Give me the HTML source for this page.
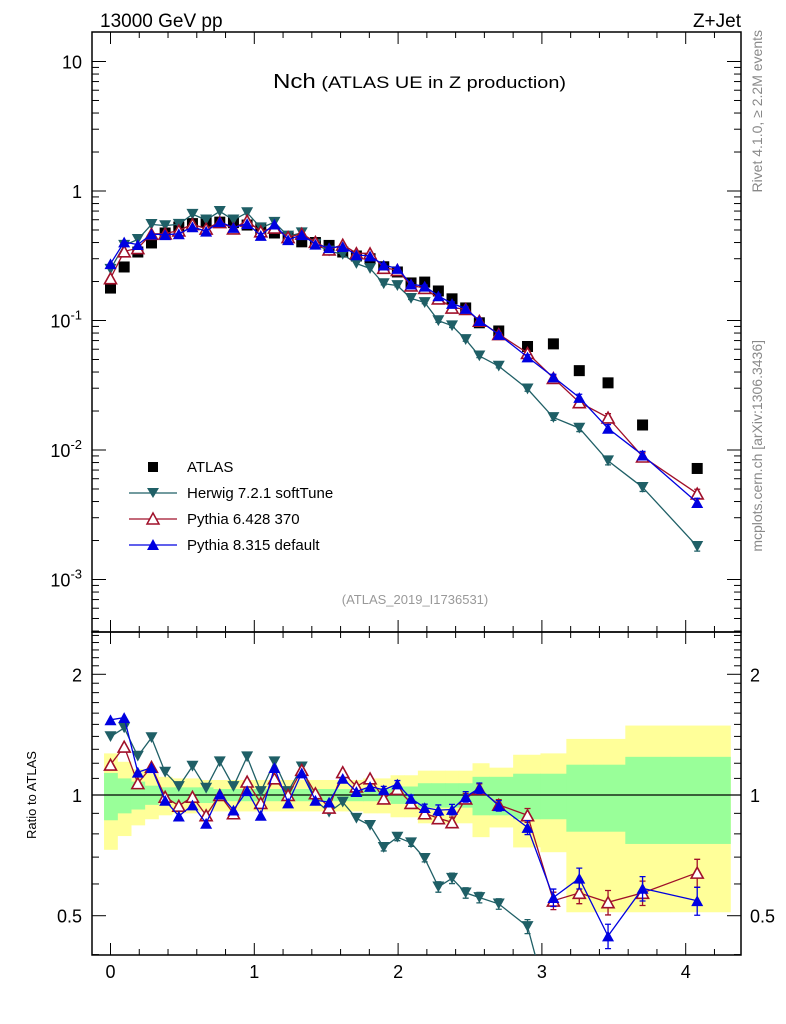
<!DOCTYPE html>
<html><head><meta charset="utf-8"><style>
html,body{margin:0;padding:0;background:#fff;}
svg{display:block;font-family:"Liberation Sans",Arial,sans-serif;}
</style></head><body>
<svg id="chart" width="786" height="1024" viewBox="0 0 786 1024" xmlns="http://www.w3.org/2000/svg">
<defs>
<clipPath id="clipMain"><rect x="92" y="32" width="649" height="600"/></clipPath>
<clipPath id="clipRatio"><rect x="92" y="632" width="649" height="323"/></clipPath>
</defs>
<g id="bands" clip-path="url(#clipRatio)"></g>
<g id="grid"></g>
<text x="100" y="27" font-size="19">13000 GeV pp</text>
<text x="741" y="27" font-size="19" text-anchor="end">Z+Jet</text>
<text x="273" y="88" textLength="293" lengthAdjust="spacingAndGlyphs"><tspan font-size="20">Nch</tspan><tspan font-size="16.5"> (ATLAS UE in Z production)</tspan></text>
<text transform="translate(762,30) rotate(-90)" font-size="14" fill="#888" text-anchor="end">Rivet 4.1.0, ≥ 2.2M events</text>
<text transform="translate(762,340) rotate(-90)" font-size="14" fill="#888" text-anchor="end"><tspan>mcplots.cern.ch [arXiv:1306.3436]</tspan></text>
<text x="415" y="604" font-size="13" fill="#999" text-anchor="middle">(ATLAS_2019_I1736531)</text>
<text transform="translate(36,795) rotate(-90)" font-size="13" text-anchor="middle">Ratio to ATLAS</text>
<g id="legend" font-size="15">
<rect x="148" y="462" width="10" height="10" fill="#000"/>
<text x="187" y="472">ATLAS</text>
<line x1="129" y1="493" x2="177" y2="493" stroke="#1f5f66" stroke-width="1.3"/>
<polygon points="147,488 159,488 153,498" fill="#1f5f66"/>
<text x="187" y="498">Herwig 7.2.1 softTune</text>
<line x1="129" y1="519" x2="177" y2="519" stroke="#a0102a" stroke-width="1.3"/>
<polygon points="153,513 159,524 147,524" fill="#fff" stroke="#a0102a" stroke-width="1.5"/>
<text x="187" y="524">Pythia 6.428 370</text>
<line x1="129" y1="545" x2="177" y2="545" stroke="#0000e0" stroke-width="1.3"/>
<polygon points="153,539 159,550 147,550" fill="#0000e0"/>
<text x="187" y="550">Pythia 8.315 default</text>
</g>
<g id="series"></g>
</svg>
<script>
const xVals = [0,0.095,0.19,0.285,0.38,0.475,0.57,0.665,0.76,0.855,0.95,1.045,1.14,1.235,1.33,1.425,1.52,1.615,1.71,1.805,1.9,1.995,2.09,2.185,2.28,2.375,2.47,2.565,2.70,2.90,3.08,3.26,3.46,3.70,4.08];
const atlasVals = [0.178,0.259,0.338,0.397,0.474,0.527,0.56,0.575,0.575,0.57,0.546,0.51,0.474,0.44,0.405,0.40,0.38,0.338,0.315,0.30,0.26,0.237,0.195,0.198,0.169,0.147,0.125,0.096,0.083,0.063,0.066,0.041,0.033,0.0156,0.0072];
const herwigRatio = [1.398,1.47,1.25,1.39,1.14,1.05,1.18,1.04,1.21,1.05,1.245,1.02,1.21,1.02,1.175,0.97,0.906,0.96,0.875,0.84,0.74,0.785,0.76,0.695,0.59,0.62,0.57,0.555,0.535,0.47,0.27,0.36,0.25,0.33,0.25];
const pythia6Ratio = [1.19,1.32,1.07,1.175,0.99,0.94,0.99,0.89,1.0,0.90,1.08,0.955,1.10,1.0,1.155,1.01,0.93,1.14,1.05,1.10,0.98,1.035,0.955,0.90,0.875,0.855,0.98,1.035,0.945,0.89,0.545,0.57,0.54,0.57,0.64];
const pythia8Ratio = [1.54,1.56,1.14,1.17,0.97,0.886,0.944,0.85,1.006,0.917,1.025,0.89,1.17,0.955,1.135,0.97,0.96,1.10,1.02,1.05,1.03,1.065,0.98,0.93,0.917,0.92,0.99,1.04,0.94,0.83,0.555,0.62,0.445,0.585,0.545];
const mcErr = [0,0,0,0,0,0,0,0,0,0,0,0,0,0,0,0,0,0,0,0,0.02,0.02,0.02,0.02,0.03,0.03,0.03,0.03,0.03,0.04,0.05,0.06,0.07,0.07,0.08];
const errTotalHi = [0.27,0.21,0.16,0.13,0.11,0.10,0.10,0.09,0.09,0.09,0.09,0.09,0.09,0.09,0.09,0.09,0.09,0.09,0.09,0.10,0.10,0.12,0.12,0.15,0.15,0.15,0.15,0.20,0.17,0.26,0.27,0.38,0.38,0.49,0.49];
const errTotalLo = [0.27,0.21,0.16,0.13,0.11,0.10,0.10,0.09,0.09,0.09,0.09,0.09,0.09,0.09,0.09,0.09,0.09,0.09,0.09,0.10,0.10,0.12,0.12,0.15,0.15,0.15,0.15,0.215,0.17,0.26,0.28,0.49,0.49,0.49,0.49];
const errStat = [0.135,0.10,0.08,0.055,0.045,0.045,0.045,0.045,0.035,0.035,0.035,0.035,0.035,0.035,0.035,0.035,0.035,0.035,0.035,0.035,0.035,0.05,0.05,0.07,0.07,0.07,0.07,0.11,0.11,0.13,0.13,0.19,0.19,0.245,0.245];
const xTicks = [0,1,2,3,4];
const mainTicks = [10,1,0.1,0.01,0.001];
const mainTickLabels = ["10","1","10^-1","10^-2","10^-3"];
const ratioTicks = [2,1,0.5];
const ratioTickLabels = ["2","1","0.5"];

const NS="http://www.w3.org/2000/svg";
const L=92,R=741,T=32,M=632,B=955;
function xp(d){return 110.5+143.8*d;}
function ym(v){return 191-129.5*Math.log10(v);}
function yr(r){return 795-401*Math.log10(r);}
function mk(tag,attrs,parent){const e=document.createElementNS(NS,tag);for(const k in attrs)e.setAttribute(k,attrs[k]);parent.appendChild(e);return e;}
const svg=document.getElementById('chart');
const bands=document.getElementById('bands');
const grid=document.getElementById('grid');
const series=document.getElementById('series');

const edges=[];
edges.push(xVals[0]-0.045);
for(let i=0;i<xVals.length-1;i++)edges.push((xVals[i]+xVals[i+1])/2);
edges.push(4.31);
for(let i=0;i<xVals.length;i++){
  const x0=xp(edges[i]),x1=xp(edges[i+1]);
  let r=mk('rect',{x:x0,y:yr(1+errTotalHi[i]),width:x1-x0+0.5,height:yr(1-errTotalLo[i])-yr(1+errTotalHi[i]),fill:'#ffff99'},bands);
  
  
}
for(let i=0;i<xVals.length;i++){
  const x0=xp(edges[i]),x1=xp(edges[i+1]);
  let r=mk('rect',{x:x0,y:yr(1+errStat[i]),width:x1-x0+0.5,height:yr(1-errStat[i])-yr(1+errStat[i]),fill:'#99ff99'},bands);
  
  
}
let f1=mk('rect',{x:L,y:T,width:R-L,height:M-T,fill:'none',stroke:'#000','stroke-width':1.5},grid);


let f2=mk('rect',{x:L,y:M,width:R-L,height:B-M,fill:'none',stroke:'#000','stroke-width':1.5},grid);


let one=mk('line',{x1:L,x2:R,y1:yr(1),y2:yr(1),stroke:'#000','stroke-width':1.2},grid);


for(let d=0;d<=4.4;d+=0.2){
  const x=xp(d);if(x<L||x>R)continue;
  const major=Math.abs(d-Math.round(d))<0.01;
  const len=major?12:6;
  [[T,1],[M,-1],[M,1],[B,-1]].forEach(([y,s])=>{mk('line',{x1:x,x2:x,y1:y,y2:y+s*len,stroke:'#000','stroke-width':1},grid);});
}
xTicks.forEach(d=>{
  let t=mk('text',{x:xp(d),y:978,'font-size':18,'text-anchor':'middle'},svg);
  t.textContent=String(d);
  
  
});
for(let e=-4;e<=1;e++){
  for(let k=1;k<=9;k++){
    const v=k*Math.pow(10,e);const y=ym(v);
    if(y<T||y>M)continue;
    const len=k===1?14:7;
    mk('line',{x1:L,x2:L+len,y1:y,y2:y,stroke:'#000','stroke-width':1},grid);
    mk('line',{x1:R,x2:R-len,y1:y,y2:y,stroke:'#000','stroke-width':1},grid);
  }
}
mainTicks.forEach((v,i)=>{
  const lab=mainTickLabels[i];
  let t=mk('text',{x:82,y:ym(v)+7,'font-size':18,'text-anchor':'end'},svg);
  if(lab.indexOf('^')>=0){
    const p=lab.split('^');
    const a=document.createElementNS(NS,'tspan');a.textContent=p[0];t.appendChild(a);
    const b=document.createElementNS(NS,'tspan');b.textContent=p[1];b.setAttribute('font-size','13');b.setAttribute('dy','-8');t.appendChild(b);
  } else t.textContent=lab;
  
  
});
for(let r=0.4;r<=2.56;r+=0.1){
  const y=yr(r);if(y<M||y>B)continue;
  const maj=[0.5,1,2].some(m=>Math.abs(m-r)<0.01);
  const len=maj?14:7;
  mk('line',{x1:L,x2:L+len,y1:y,y2:y,stroke:'#000','stroke-width':1},grid);
  mk('line',{x1:R,x2:R-len,y1:y,y2:y,stroke:'#000','stroke-width':1},grid);
}
ratioTicks.forEach((v,i)=>{
  let t=mk('text',{x:82,y:yr(v)+7,'font-size':18,'text-anchor':'end'},svg);
  t.textContent=ratioTickLabels[i];
  
  
  let t2=mk('text',{x:750,y:yr(v)+7,'font-size':18,'text-anchor':'start'},svg);
  t2.textContent=ratioTickLabels[i];
  
  
});

function tri(g,x,y,down,fill,stroke,s){
  const h=s*0.9;
  const pts=down?`${x-s/2},${y-h/2} ${x+s/2},${y-h/2} ${x},${y+h/2}`:`${x},${y-h/2} ${x+s/2},${y+h/2} ${x-s/2},${y+h/2}`;
  const p=mk('polygon',{points:pts,fill:fill},g);
  if(stroke){p.setAttribute('stroke',stroke);p.setAttribute('stroke-width','1.6');}
  return p;
}
function drawSeries(name,ratios,color,down,open){
  [['main',ym,'url(#clipMain)'],['ratio',yr,'url(#clipRatio)']].forEach(([pan,yf,clip])=>{
    const g=mk('g',{'clip-path':clip},series);
    
    
    const vals=ratios.map((r,i)=>pan==='main'?r*atlasVals[i]:r);
    const d=vals.map((v,i)=>(i?'L':'M')+xp(xVals[i]).toFixed(1)+','+yf(v).toFixed(1)).join(' ');
    const ln=mk('path',{d:d,fill:'none',stroke:color,'stroke-width':1.3},g);
    
    
    vals.forEach((v,i)=>{
      const x=xp(xVals[i]);
      if(mcErr[i]>0){
        const y1=yf(v*(1+mcErr[i])),y2=yf(v*(1-mcErr[i]));
        mk('path',{d:`M${x},${y1}L${x},${y2}M${x-3},${y1}L${x+3},${y1}M${x-3},${y2}L${x+3},${y2}`,stroke:color,'stroke-width':1.3,fill:'none'},g);
      }
      const p=tri(g,x,yf(v),down,open?'#fff':color,open?color:null,12);
      
      
    });
  });
}
const ga=mk('g',{'clip-path':'url(#clipMain)'},series);


atlasVals.forEach((v,i)=>{
  const r=mk('rect',{x:xp(xVals[i])-5.5,y:ym(v)-5.5,width:11,height:11,fill:'#000'},ga);
  
  
});
drawSeries('herwig',herwigRatio,'#1f5f66',true,false);
drawSeries('pythia6',pythia6Ratio,'#a0102a',false,true);
drawSeries('pythia8',pythia8Ratio,'#0000e0',false,false);
</script>
</body></html>
